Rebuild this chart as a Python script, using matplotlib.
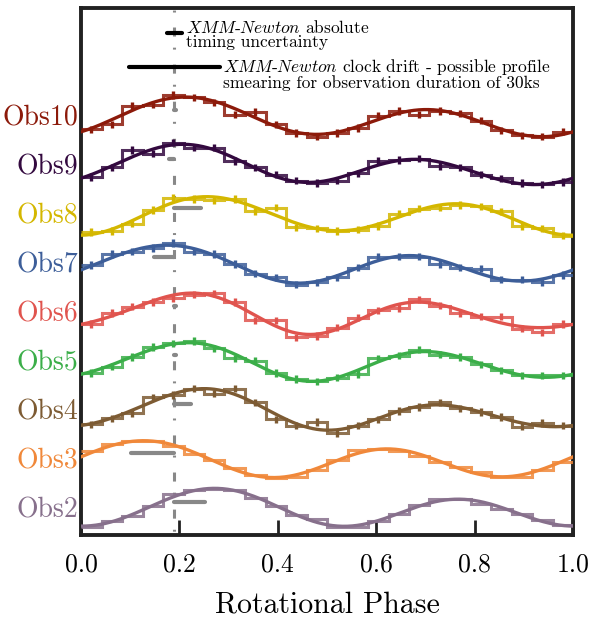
import numpy as np
import matplotlib.pyplot as plt

plt.rcParams["font.family"] = "serif"
plt.rcParams["font.serif"] = ["cmr10"]
plt.rcParams["mathtext.fontset"] = "cm"
plt.rcParams["axes.unicode_minus"] = False
plt.rcParams["axes.formatter.use_mathtext"] = True
plt.rcParams["lines.scale_dashes"] = False

# Normalised pulse profiles, 24 phase bins each
obs2 = [0.84, 0.89, 0.93, 1.01, 1.11, 1.14, 1.15, 1.14, 1.08, 1.01, 0.94, 0.91,
        0.84, 0.84, 0.89, 0.95, 1.02, 1.07, 1.07, 1.03, 0.99, 0.95, 0.90, 0.86]
obs3 = [1.06, 1.12, 1.14, 1.14, 1.10, 1.04, 0.99, 0.92, 0.87, 0.84, 0.85, 0.91,
        0.99, 1.07, 1.08, 1.06, 1.02, 0.97, 0.93, 0.89, 0.85, 0.85, 0.91, 0.97]
obs4 = [0.88, 0.93, 0.97, 1.10, 1.12, 1.17, 1.13, 1.17, 1.06, 0.92, 0.87, 0.90,
        0.81, 0.87, 0.92, 0.99, 1.02, 1.06, 1.01, 0.98, 0.94, 0.86, 0.89, 0.87]
obs5 = [0.90, 0.95, 1.03, 1.11, 1.14, 1.16, 1.10, 1.02, 1.00, 0.90, 0.85, 0.83,
        0.86, 0.89, 1.02, 1.04, 1.09, 1.05, 1.03, 0.97, 0.92, 0.88, 0.88, 0.88]
obs6 = [0.90, 0.99, 1.04, 1.08, 1.11, 1.14, 1.15, 1.08, 0.93, 0.93, 0.79, 0.80,
        0.87, 0.95, 1.01, 1.03, 1.10, 1.05, 0.99, 0.96, 0.96, 0.86, 0.83, 0.90]
obs7 = [0.98, 1.07, 1.09, 1.12, 1.16, 1.09, 1.07, 0.99, 0.91, 0.88, 0.82, 0.84,
        0.88, 0.96, 1.05, 1.05, 1.05, 0.99, 0.96, 0.95, 0.86, 0.86, 0.84, 0.90]
obs8 = [0.85, 0.86, 0.92, 1.03, 1.13, 1.12, 1.11, 1.12, 1.02, 1.05, 0.89, 0.88,
        0.86, 0.87, 0.90, 1.00, 1.04, 1.05, 1.07, 1.06, 1.02, 0.90, 0.88, 0.82]
obs9 = [0.90, 0.98, 1.12, 1.09, 1.18, 1.14, 1.14, 1.03, 0.98, 0.92, 0.87, 0.85,
        0.87, 0.93, 1.03, 1.04, 1.05, 0.99, 0.98, 0.92, 0.89, 0.85, 0.84, 0.86]
obs10 = [0.89, 0.93, 1.08, 1.09, 1.17, 1.15, 1.11, 1.01, 1.03, 0.93, 0.86, 0.83,
         0.86, 0.90, 1.00, 1.04, 1.01, 1.04, 1.02, 0.96, 0.88, 0.84, 0.83, 0.87]

names = ["Obs2", "Obs3", "Obs4", "Obs5", "Obs6", "Obs7", "Obs8", "Obs9", "Obs10"]
profiles = [obs2, obs3, obs4, obs5, obs6, obs7, obs8, obs9, obs10]
errors = [0.0, 0.0, 0.03, 0.03, 0.03, 0.03, 0.03, 0.03, 0.03]
colors = ["#87708c", "#f0883a", "#7d5b33", "#3bae49", "#e0544e",
          "#3d5e99", "#d4b700", "#33093f", "#8c1a0a"]

ref_phase = 0.19
drift = [0.062, -0.089, 0.034, 0.004, 0.004, -0.042, 0.054, -0.012, 0.004]
abs_timing = 0.016
drift_30ks = 0.092

scale = 2.5
edges = np.linspace(0, 1, 25)
centers = 0.5 * (edges[:-1] + edges[1:])
phi = np.linspace(0, 1, 400)


def design(x, nharm=3):
    cols = [np.ones_like(x)]
    for k in range(1, nharm + 1):
        cols += [np.cos(2 * np.pi * k * x), np.sin(2 * np.pi * k * x)]
    return np.column_stack(cols)


fig = plt.figure(figsize=(6.13, 6.20), dpi=100)
ax = fig.add_axes([81 / 613, 1 - 535 / 620, 492 / 613, 527 / 620])
ax.set_xlim(0, 1)
ax.set_ylim(0, 10.76)

ax.plot([ref_phase, ref_phase], [10.76, 0], color="#888888", lw=2.2,
        linestyle=(13, (6.5, 8, 1.4, 10.8)), zorder=1)

for i, (name, prof, err, col, dft) in enumerate(zip(names, profiles, errors, colors, drift)):
    off = 0.56 + i
    y = off + (np.array(prof) - 1) * scale
    ax.stairs(y, edges, baseline=None, color=col, lw=2.2, alpha=0.85, zorder=3)
    if err > 0:
        ax.errorbar(centers, y, yerr=err * scale, fmt="none", ecolor=col,
                    elinewidth=2.4, capsize=0, zorder=4)
    coef, *_ = np.linalg.lstsq(design(centers), np.array(prof), rcond=None)
    fit = design(phi) @ coef
    ax.plot(phi, off + (fit - 1) * scale, color=col, lw=2.4, zorder=5)
    ax.plot([ref_phase, ref_phase + dft], [off + 0.115] * 2, color="#888888",
            lw=3, solid_capstyle="round", zorder=2)
    ax.text(-0.006, off - 0.05, name, color=col, fontsize=20, ha="right", va="center")

# key for the timing error bars
ax.plot([ref_phase - abs_timing, ref_phase + abs_timing], [10.24] * 2, color="k",
        lw=3, solid_capstyle="round", zorder=6)
ax.text(0.214, 10.22, "$\\mathit{XMM}$-$\\mathit{Newton}$ absolute\ntiming uncertainty",
        fontsize=12.5, ha="left", va="center", linespacing=0.82)
ax.plot([ref_phase - drift_30ks, ref_phase + drift_30ks], [9.55] * 2, color="k",
        lw=3, solid_capstyle="round", zorder=6)
ax.text(0.288, 9.41, "$\\mathit{XMM}$-$\\mathit{Newton}$ clock drift - possible profile\n"
        "smearing for observation duration of 30ks",
        fontsize=12.5, ha="left", va="center", linespacing=0.82)

ax.set_xticks([0.0, 0.2, 0.4, 0.6, 0.8, 1.0])
ax.set_xticklabels(["0.0", "0.2", "0.4", "0.6", "0.8", "1.0"])
ax.set_yticks([])
ax.tick_params(axis="x", direction="in", length=11, width=2, color="#222222",
               labelsize=18.5, pad=13)
for sp in ax.spines.values():
    sp.set_linewidth(2.8)
    sp.set_color("#222222")
ax.set_xlabel("Rotational Phase", fontsize=21.5, labelpad=10)

fig.savefig("out.png", dpi=100)
